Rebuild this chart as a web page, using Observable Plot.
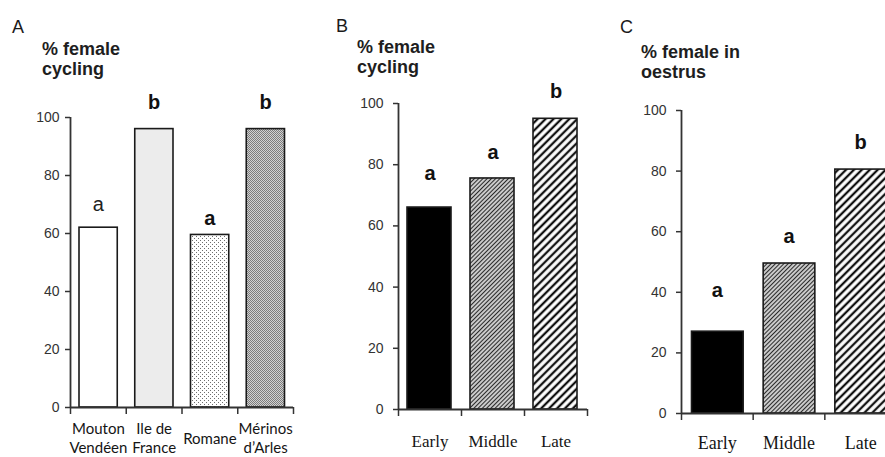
<!DOCTYPE html>
<html>
<head>
<meta charset="utf-8">
<script src="https://cdn.jsdelivr.net/npm/d3@7"></script>
<script src="https://cdn.jsdelivr.net/npm/@observablehq/plot@0.6"></script>
<style>
  html, body { margin: 0; padding: 0; background: #fff; }
  #wrap { position: relative; width: 885px; height: 457px; overflow: hidden; background: #fff; }
  .holder { position: absolute; top: 0; width: 300px; }
  .holder svg { display: block; max-width: none !important; height: 457px !important; }
  .plabel { position: absolute; font-family: "Liberation Sans", Arial, sans-serif; font-size: 18px; line-height: 20px; color: #1a1a1a; white-space: nowrap; }
  .ylab { position: absolute; font-family: "Liberation Sans", Arial, sans-serif; font-size: 18px; font-weight: bold; line-height: 20px; color: #1e1e1e; white-space: nowrap; }
</style>
</head>
<body>
<svg width="0" height="0" style="position:absolute">
  <defs>
    <pattern id="dotsLight" width="4" height="4" patternUnits="userSpaceOnUse">
      <rect width="4" height="4" fill="#ffffff"/>
      <rect x="0" y="0" width="1" height="1" fill="#6e6e6e"/>
      <rect x="2" y="2" width="1" height="1" fill="#6e6e6e"/>
    </pattern>
    <pattern id="dotsDense" width="2" height="2" patternUnits="userSpaceOnUse">
      <rect width="2" height="2" fill="#d2d2d2"/>
      <rect x="0" y="0" width="1" height="1" fill="#7c7c7c"/>
      <rect x="1" y="1" width="1" height="1" fill="#7c7c7c"/>
    </pattern>
    <pattern id="hatchFine" width="3" height="3" patternUnits="userSpaceOnUse" patternTransform="rotate(45)">
      <rect width="3" height="3" fill="#ffffff"/>
      <line x1="1.5" y1="0" x2="1.5" y2="3" stroke="#2a2a2a" stroke-width="1.5"/>
    </pattern>
    <pattern id="hatchWide" width="5.6" height="5.6" patternUnits="userSpaceOnUse" patternTransform="rotate(45)">
      <rect width="5.6" height="5.6" fill="#ffffff"/>
      <line x1="2.8" y1="0" x2="2.8" y2="5.6" stroke="#111" stroke-width="2.3"/>
    </pattern>
  </defs>
</svg>

<div id="wrap">
  <div class="plabel" style="left:12px;top:17px;">A</div>
  <div class="ylab" style="left:42px;top:39px;">% female<br>cycling</div>
  <div class="plabel" style="left:336px;top:16px;">B</div>
  <div class="ylab" style="left:357px;top:37px;">% female<br>cycling</div>
  <div class="plabel" style="left:620px;top:17px;">C</div>
  <div class="ylab" style="left:641px;top:42px;">% female in<br>oestrus</div>
  <div class="holder" id="pA" style="left:0px;"></div>
  <div class="holder" id="pB" style="left:320px;"></div>
  <div class="holder" id="pC" style="left:600px;"></div>
</div>

<script>
// ---- Data ----
const breedsA = ["Mouton\nVendéen", "Ile de\nFrance", "Romane", "Mérinos\nd’Arles"];
const cyclingA = [62, 96, 59.5, 96];
const lettersA = ["a", "b", "a", "b"];
const letterYA = [70, 105.3, 65, 105.3];

const timing = ["Early", "Middle", "Late"];
const cyclingB = [66, 75.5, 95];
const lettersB = ["a", "a", "b"];
const letterYB = [77, 84, 104];

const oestrusC = [27, 49.5, 80.5];
const lettersC = ["a", "a", "b"];
const letterYC = [40.5, 58.5, 89.5];

const yTicks = [0, 20, 40, 60, 80, 100];

// ---- Styles ----
const fillsA = ["#ffffff", "#ececec", "url(#dotsLight)", "url(#dotsDense)"];
const fillsBC = ["#000000", "url(#hatchFine)", "url(#hatchWide)"];

function panel(o) {
  const rows = o.cats.map((c, i) => ({i, cat: c, value: o.values[i], letter: o.letters[i], ly: o.letterY[i]}));
  const normal = o.normalLetters || [];
  return Plot.plot({
    width: o.width,
    height: 457,
    marginLeft: o.ml,
    marginRight: o.mr,
    marginTop: o.mt,
    marginBottom: o.mb,
    x: {domain: [0, o.cats.length], axis: null, label: null},
    y: {domain: [0, 100], axis: null, label: null},
    color: {type: "ordinal", domain: o.cats, range: o.fills},
    style: {fontFamily: "'Liberation Sans', Arial, sans-serif", fontSize: "14px", color: "#222", background: "transparent", overflow: "visible"},
    marks: [
      Plot.rect(rows, {x1: "i", x2: d => d.i + 1, y1: 0, y2: "value", fill: "cat",
        stroke: "#1a1a1a", strokeWidth: 1.6, insetLeft: o.insetL, insetRight: o.insetR}),
      Plot.ruleX([0], {y1: 0, y2: 100, stroke: "#333", strokeWidth: 1.8}),
      Plot.ruleY([0], {stroke: "#333", strokeWidth: 1.8}),
      Plot.axisY({ticks: yTicks, tickSize: 5, tickPadding: o.tickPad, color: "#333", strokeWidth: 1.5, fontSize: 14}),
      Plot.axisX({ticks: d3.range(o.cats.length + 1), tickSize: 7, tickFormat: () => "", color: "#333", strokeWidth: 1.5}),
      Plot.text(rows, {x: d => d.i + 0.5, y: 0, text: "cat", dy: o.labelDy, fontFamily: o.labelFont,
        fontSize: o.labelSize, lineHeight: o.lineHeight, fill: "#151515"}),
      Plot.text(rows, {filter: d => !normal.includes(d.i), x: d => d.i + 0.5, y: "ly", text: "letter",
        fontSize: 20, fontWeight: "bold", fontFamily: "'Liberation Sans', Arial, sans-serif", fill: "#111"}),
      Plot.text(rows, {filter: d => normal.includes(d.i), x: d => d.i + 0.5, y: "ly", text: "letter",
        fontSize: 20, fontWeight: "normal", fontFamily: "'Liberation Sans', Arial, sans-serif", fill: "#222"})
    ]
  });
}

document.getElementById("pA").appendChild(panel({
  cats: breedsA, values: cyclingA, letters: lettersA, letterY: letterYA, fills: fillsA, normalLetters: [0],
  width: 300, ml: 70, mr: 7, mt: 117, mb: 50, insetL: 9, insetR: 8.5, tickPad: 6,
  labelDy: 30, labelFont: "Lato, 'Open Sans', sans-serif", labelSize: 15, lineHeight: 1.3
}));

document.getElementById("pB").appendChild(panel({
  cats: timing, values: cyclingB, letters: lettersB, letterY: letterYB, fills: fillsBC,
  width: 280, ml: 78, mr: 13, mt: 103, mb: 48, insetL: 9, insetR: 10, tickPad: 10,
  labelDy: 31, labelFont: "'Liberation Serif', 'Times New Roman', serif", labelSize: 17, lineHeight: 1.2
}));

document.getElementById("pC").appendChild(panel({
  cats: timing, values: oestrusC, letters: lettersC, letterY: letterYC, fills: fillsBC,
  width: 296, ml: 81, mr: 0, mt: 110, mb: 44, insetL: 10.5, insetR: 9.5, tickPad: 10,
  labelDy: 29, labelFont: "'Liberation Serif', 'Times New Roman', serif", labelSize: 18, lineHeight: 1.2
}));
</script>
</body>
</html>
